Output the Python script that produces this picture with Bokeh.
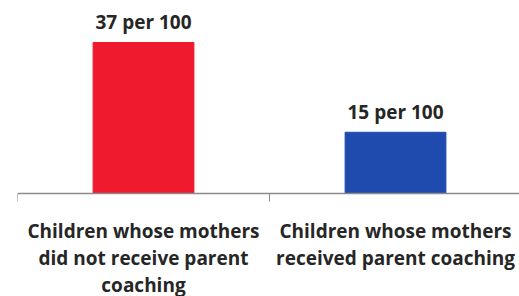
from bokeh.plotting import figure
from bokeh.models import ColumnDataSource, Range1d, FixedTicker
from bokeh.core.properties import value
from bokeh.embed import file_html
from bokeh.resources import INLINE

categories = ["Children whose mothers\ndid not receive parent\ncoaching",
              "Children whose mothers\nreceived parent coaching"]
rates = [37, 15]
bar_labels = ["37 per 100", "15 per 100"]
colors = ["#EF1A2E", "#1F4BAF"]

xs = [i + 0.5 for i in range(len(categories))]
src = ColumnDataSource(dict(x=xs, top=rates, label=bar_labels, cat=categories, color=colors))

FONT = "Open Sans"
p = figure(frame_width=502, frame_height=296, output_backend="svg", toolbar_location=None,
           x_range=Range1d(0, 1.992), y_range=Range1d(-25.24, 47.29),
           min_border_left=17, min_border_right=0, min_border_top=0, min_border_bottom=0)
p.outline_line_color = None
p.grid.visible = False
p.background_fill_color = "white"
p.border_fill_color = "white"
p.yaxis.visible = False

p.vbar(x="x", top="top", bottom=0, width=0.4, color="color", source=src)

p.text(x="x", y="top", text="label", source=src, text_align="center",
       text_baseline="alphabetic", y_offset=-20, text_font=value(FONT),
       text_font_style="bold", text_font_size="19px", text_color="#262626")

p.text(x="x", y=0, text="cat", source=src, text_align="center",
       text_baseline="top", y_offset=25, text_font=value(FONT),
       text_font_style="bold", text_font_size="19px", text_color="#262626",
       text_line_height=1.03)

ax = p.xaxis[0]
ax.fixed_location = 0
ax.ticker = FixedTicker(ticks=[0, 1, 2])
ax.major_label_text_font_size = "0px"
ax.major_label_text_color = None
ax.major_tick_in = 0
ax.major_tick_out = 8
ax.minor_tick_line_color = None
ax.axis_line_color = "#8a8a8a"
ax.major_tick_line_color = "#8a8a8a"
ax.axis_line_width = 1.5

open("out.html", "w").write(file_html(p, INLINE))
